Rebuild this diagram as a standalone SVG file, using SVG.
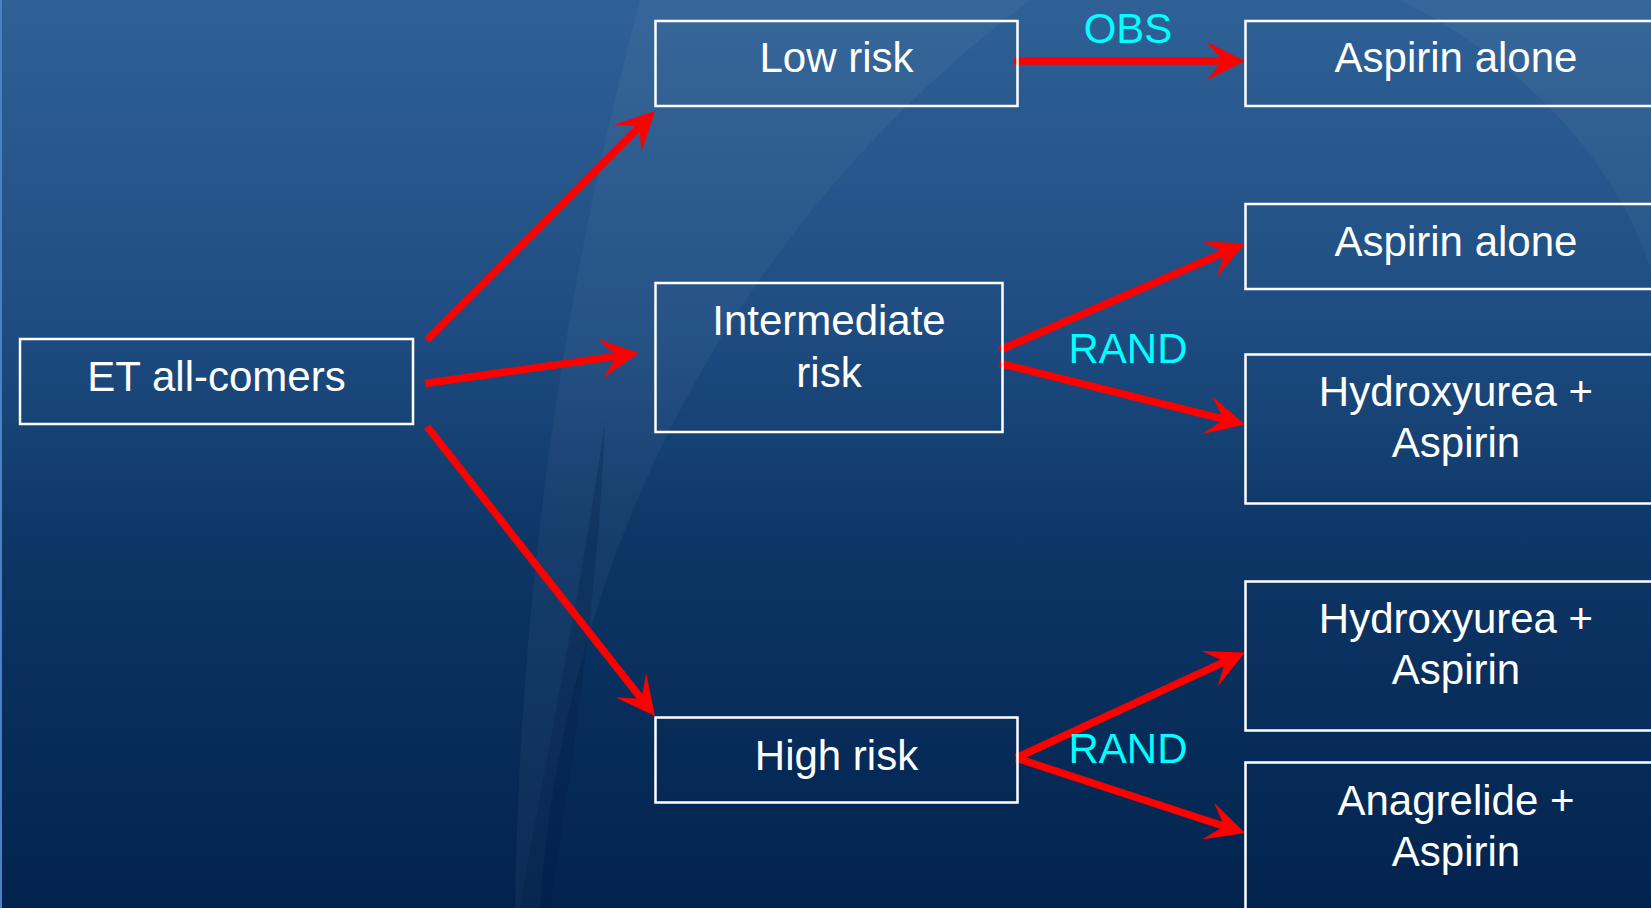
<svg xmlns="http://www.w3.org/2000/svg" width="1651" height="908" viewBox="0 0 1651 908">
  <defs>
    <linearGradient id="bg" x1="0" y1="0" x2="0" y2="1">
      <stop offset="0" stop-color="#2F6196"/>
      <stop offset="0.35" stop-color="#1F4D82"/>
      <stop offset="0.6" stop-color="#0D3666"/>
      <stop offset="1" stop-color="#02234E"/>
    </linearGradient>
    <marker id="head" markerUnits="userSpaceOnUse" markerWidth="80" markerHeight="80" viewBox="-40 -40 80 80" refX="0" refY="0" orient="auto" overflow="visible">
      <path d="M22,0 L-17,-19.5 L0,0 L-17,19.5 Z" fill="#FF0000"/>
    </marker>
    <style>
      .box { fill: none; stroke: #FFFFFF; stroke-width: 2.5; }
      .lbl { font-family: "Liberation Sans", Arial, sans-serif; font-size: 42px; fill: #FFFFFF; text-anchor: middle; }
      .tag { font-family: "Liberation Sans", Arial, sans-serif; font-size: 42px; fill: #00FFFF; text-anchor: middle; }
      .arrow { fill: none; stroke: #FF0000; stroke-width: 7.5; stroke-linecap: butt; marker-end: url(#head); }
    </style>
  </defs>

  <g id="background">
    <rect x="0" y="0" width="1651" height="908" fill="url(#bg)"/>
    <path d="M640,0 C560,300 520,600 515,908 L540,908 C560,600 700,250 1030,0 Z" fill="#FFFFFF" opacity="0.04"/>
    <path d="M1400,0 C1560,80 1630,200 1651,270 L1651,0 Z" fill="#FFFFFF" opacity="0.04"/>
    <path d="M605,420 C580,600 545,760 520,908 L550,908 C572,760 598,600 605,420 Z" fill="#001A45" opacity="0.25"/>
    <rect x="0" y="0" width="2" height="908" fill="#4A80C6"/>
  </g>

  <g id="connectors">
    <line class="arrow" x1="427" y1="340" x2="639.5" y2="126.6"/>
    <line class="arrow" x1="425" y1="383.5" x2="617.2" y2="356.1"/>
    <line class="arrow" x1="427" y1="426.5" x2="641.4" y2="698.7"/>
    <line class="arrow" x1="1014" y1="61" x2="1223" y2="61"/>
    <line class="arrow" x1="1000" y1="350" x2="1224.8" y2="252.3"/>
    <line class="arrow" x1="1000" y1="363.5" x2="1223.7" y2="419.2"/>
    <line class="arrow" x1="1016" y1="758" x2="1225" y2="661.7"/>
    <line class="arrow" x1="1016" y1="758" x2="1224.1" y2="826.2"/>
    <text class="tag" x="1128" y="43">OBS</text>
    <text class="tag" x="1128" y="362.5">RAND</text>
    <text class="tag" x="1128" y="762.5">RAND</text>
  </g>

  <g id="et-all-comers">
    <rect class="box" x="20" y="339" width="393" height="85"/>
    <text class="lbl" x="216.5" y="391">ET all-comers</text>
  </g>
  <g id="low-risk">
    <rect class="box" x="655.5" y="21" width="362" height="85"/>
    <text class="lbl" x="836.5" y="72">Low risk</text>
  </g>
  <g id="intermediate-risk">
    <rect class="box" x="655.5" y="283" width="347" height="149"/>
    <text class="lbl" x="829" y="335">Intermediate</text>
    <text class="lbl" x="829" y="386.5">risk</text>
  </g>
  <g id="high-risk">
    <rect class="box" x="655.5" y="717.5" width="362" height="85"/>
    <text class="lbl" x="836.5" y="770">High risk</text>
  </g>
  <g id="aspirin-alone-1">
    <rect class="box" x="1245.5" y="21" width="430" height="85"/>
    <text class="lbl" x="1456" y="72">Aspirin alone</text>
  </g>
  <g id="aspirin-alone-2">
    <rect class="box" x="1245.5" y="204" width="430" height="85"/>
    <text class="lbl" x="1456" y="255.5">Aspirin alone</text>
  </g>
  <g id="hydroxyurea-aspirin-1">
    <rect class="box" x="1245.5" y="354.5" width="430" height="149"/>
    <text class="lbl" x="1456" y="406">Hydroxyurea +</text>
    <text class="lbl" x="1456" y="457">Aspirin</text>
  </g>
  <g id="hydroxyurea-aspirin-2">
    <rect class="box" x="1245.5" y="581.5" width="430" height="149"/>
    <text class="lbl" x="1456" y="633">Hydroxyurea +</text>
    <text class="lbl" x="1456" y="684">Aspirin</text>
  </g>
  <g id="anagrelide-aspirin">
    <rect class="box" x="1245.5" y="762.5" width="430" height="149"/>
    <text class="lbl" x="1456" y="815">Anagrelide +</text>
    <text class="lbl" x="1456" y="866">Aspirin</text>
  </g>
</svg>
